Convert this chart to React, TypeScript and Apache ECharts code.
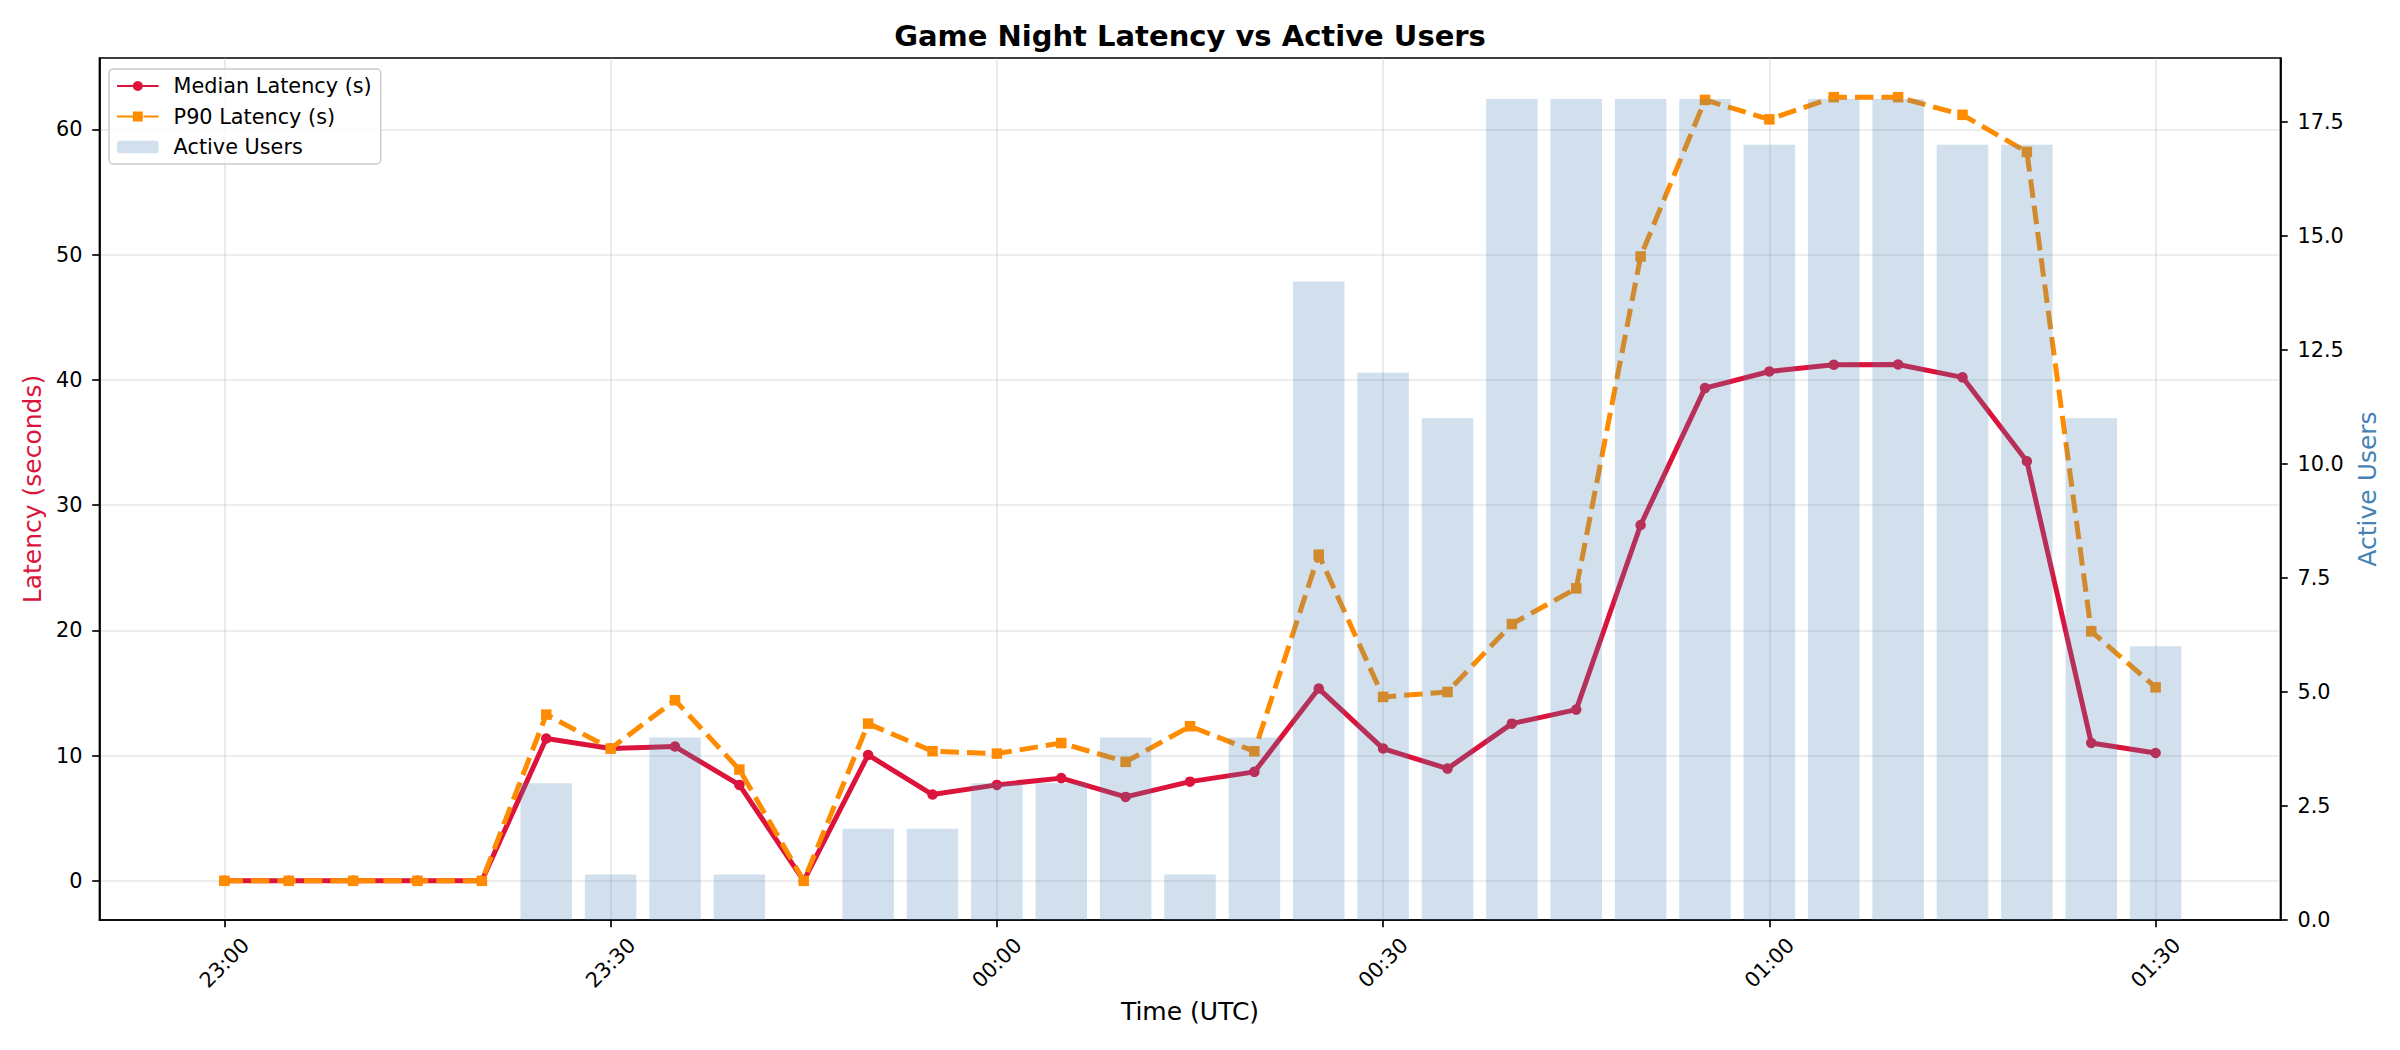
import React, { useEffect, useRef } from 'react';
import * as echarts from 'echarts';

const FONT = 'DejaVu Sans';

// 5-minute samples, 23:00 -> 01:30 UTC
const times = [
  '23:00', '23:05', '23:10', '23:15', '23:20', '23:25', '23:30', '23:35', '23:40', '23:45',
  '23:50', '23:55', '00:00', '00:05', '00:10', '00:15', '00:20', '00:25', '00:30', '00:35',
  '00:40', '00:45', '00:50', '00:55', '01:00', '01:05', '01:10', '01:15', '01:20', '01:25', '01:30',
];
const medianLatency = [
  0, 0, 0, 0, 0, 11.36, 10.56, 10.72, 7.66, 0,
  10.05, 6.89, 7.66, 8.2, 6.7, 7.92, 8.7, 15.35, 10.56, 8.96,
  12.55, 13.67, 28.41, 39.34, 40.67, 41.2, 41.23, 40.2, 33.5, 11.01, 10.21,
];
const p90Latency = [
  0, 0, 0, 0, 0, 13.27, 10.56, 14.42, 8.88, 0,
  12.55, 10.35, 10.16, 11.0, 9.5, 12.34, 10.34, 26.04, 14.68, 15.08,
  20.5, 23.35, 49.85, 62.35, 60.8, 62.57, 62.57, 61.16, 58.2, 19.92, 15.45,
];
const activeUsers = [
  0, 0, 0, 0, 0, 3, 1, 4, 1, 0,
  2, 2, 3, 3, 4, 1, 4, 14, 12, 11,
  18, 18, 18, 18, 17, 18, 18, 17, 17, 11, 6,
];

const timeTicks = ['23:00', '23:30', '00:00', '00:30', '01:00', '01:30'];
const latencyTicks = [0, 10, 20, 30, 40, 50, 60];
const userTicks = [0, 2.5, 5, 7.5, 10, 12.5, 15, 17.5];

// minutes after 23:00
const toMin = (t: string) => {
  const [h, m] = t.split(':').map(Number);
  return (h < 12 ? h + 24 : h) * 60 + m - 23 * 60;
};
const toLabel = (v: number) => {
  const total = Math.round(v) + 23 * 60;
  const h = Math.floor(total / 60) % 24;
  const m = total % 60;
  return String(h).padStart(2, '0') + ':' + String(m).padStart(2, '0');
};

const App: React.FC = () => {
  const chartRef = useRef<HTMLDivElement>(null);

  useEffect(() => {
    document.body.style.margin = '0';
    document.body.style.overflow = 'hidden';
    const chart = echarts.init(chartRef.current!, null, { renderer: 'svg' });

    const xs = times.map(toMin);
    const barMin = 4; // bar width in minutes
    const lo = xs[0] - barMin / 2;
    const hi = xs[xs.length - 1] + barMin / 2;
    const xMin = lo - (hi - lo) * 0.05;
    const xMax = hi + (hi - lo) * 0.05;

    const latTop = Math.max(...p90Latency, ...medianLatency);
    const latMin = -latTop * 0.05;
    const latMax = latTop * 1.05;
    const userMax = Math.max(...activeUsers) * 1.05;

    const gridLeft = 99.5;
    const gridRight = 119.5;
    const plotW = 2400 - gridLeft - gridRight;
    const barWidth = (barMin * plotW) / (xMax - xMin);

    const axisLine = { show: true, onZero: false, lineStyle: { color: '#000', width: 1.7 } };
    const tick = { show: true, length: 7.3, lineStyle: { color: '#000', width: 1.67 } };
    const split = { show: true, lineStyle: { color: '#b0b0b0', opacity: 0.3, width: 1.67 } };
    const label = { fontSize: 20.8, color: '#000', fontFamily: FONT };

    const options = {
      animation: false,
      textStyle: { fontFamily: FONT },
      grid: {
        left: gridLeft,
        right: gridRight,
        top: 58,
        bottom: 130,
        show: true,
        borderColor: '#000',
        borderWidth: 1.7,
      },
      graphic: [
        {
          type: 'text',
          x: 1190,
          y: 36,
          style: {
            text: 'Game Night Latency vs Active Users',
            fontSize: 29,
            fontWeight: 'bold',
            fontFamily: FONT,
            fill: '#000',
            textAlign: 'center',
            textVerticalAlign: 'middle',
          },
        },
      ],
      legend: {
        orient: 'vertical',
        left: 109,
        top: 69,
        itemWidth: 41.6,
        itemHeight: 12.5,
        itemGap: 9.5,
        padding: [6.5, 9, 6.5, 7],
        backgroundColor: 'rgba(255,255,255,0.8)',
        borderColor: '#cccccc',
        borderWidth: 1.5,
        borderRadius: 4,
        textStyle: { fontSize: 20.8, color: '#000', fontFamily: FONT, lineHeight: 21, padding: [0, 0, 0, 10] },
        data: ['Median Latency (s)', 'P90 Latency (s)', 'Active Users'],
      },
      xAxis: {
        type: 'value',
        min: xMin,
        max: xMax,
        name: 'Time (UTC)',
        nameLocation: 'middle',
        nameGap: 79,
        nameTextStyle: { fontSize: 25, color: '#000', fontFamily: FONT },
        axisLine,
        axisTick: { ...tick, customValues: timeTicks.map(toMin) },
        axisLabel: {
          ...label,
          customValues: timeTicks.map(toMin),
          rotate: 45,
          align: 'center',
          verticalAlign: 'middle',
          margin: 43,
          formatter: (v: number) => toLabel(v),
        },
        splitLine: split,
      },
      yAxis: [
        {
          type: 'value',
          position: 'left',
          min: latMin,
          max: latMax,
          name: 'Latency (seconds)',
          nameLocation: 'middle',
          nameRotate: 90,
          nameGap: 52,
          nameTextStyle: { fontSize: 25, color: '#DC143C', fontFamily: FONT },
          axisLine,
          axisTick: { ...tick, customValues: latencyTicks },
          axisLabel: { ...label, customValues: latencyTicks, margin: 17 },
          splitLine: split,
        },
        {
          type: 'value',
          position: 'right',
          min: 0,
          max: userMax,
          name: 'Active Users',
          nameLocation: 'middle',
          nameRotate: 90,
          nameGap: 68,
          nameTextStyle: { fontSize: 25, color: '#4682B4', fontFamily: FONT },
          axisLine,
          axisTick: { ...tick, customValues: userTicks },
          axisLabel: {
            ...label,
            customValues: userTicks,
            margin: 17,
            formatter: (v: number) => v.toFixed(1),
          },
          splitLine: { show: false },
        },
      ],
      series: [
        {
          name: 'Median Latency (s)',
          type: 'line',
          yAxisIndex: 0,
          data: xs.map((x, i) => [x, medianLatency[i]]),
          symbol: 'circle',
          symbolSize: 10.5,
          showAllSymbol: true,
          lineStyle: { color: '#DC143C', width: 5 },
          itemStyle: { color: '#DC143C' },
          z: 2,
        },
        {
          name: 'P90 Latency (s)',
          type: 'line',
          yAxisIndex: 0,
          data: xs.map((x, i) => [x, p90Latency[i]]),
          symbol: 'rect',
          symbolSize: 10.5,
          showAllSymbol: true,
          lineStyle: { color: '#FF8C00', width: 5, type: [18.5, 8] },
          itemStyle: { color: '#FF8C00' },
          z: 2,
        },
        {
          name: 'Active Users',
          type: 'bar',
          yAxisIndex: 1,
          data: xs.map((x, i) => [x, activeUsers[i]]),
          barWidth: barWidth,
          itemStyle: { color: 'rgba(70,130,180,0.25)' },
          z: 3,
        },
      ],
    };

    chart.setOption(options as any);

    return () => {
      chart.dispose();
    };
  }, []);

  return <div ref={chartRef} style={{ width: '2400px', height: '1050px' }} />;
};

export default App;
